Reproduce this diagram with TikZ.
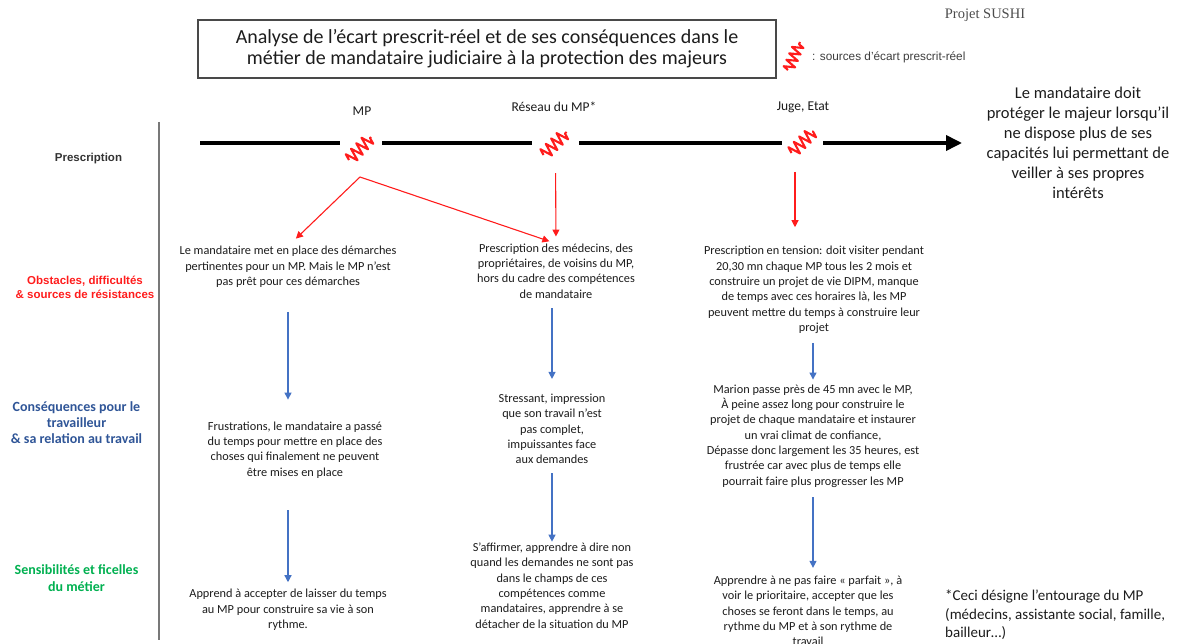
\documentclass[tikz,border=0pt]{standalone}
\usepackage{fontspec}
\setmainfont{Carlito}
\newfontfamily\arialf{Liberation Sans}
\newfontfamily\timesf{Liberation Serif}
\usetikzlibrary{arrows.meta,decorations.pathmorphing}

\definecolor{wred}{RGB}{255,28,28}
\definecolor{wblue}{RGB}{68,114,196}
\definecolor{lblue}{RGB}{47,85,151}
\definecolor{lgreen}{RGB}{0,176,80}
\definecolor{ink}{RGB}{28,28,28}
\definecolor{rule}{RGB}{120,120,120}

\tikzset{
  body/.style={font=\fontsize{12.3}{15.3}\selectfont, align=center, text=ink, inner sep=0pt},
  spring/.style={draw=wred, line width=2.1pt, line join=round, decorate,
    decoration={zigzag, segment length=7.6pt, amplitude=6.3pt}},
  gapnode/.style={minimum width=#1, minimum height=30pt, inner sep=0pt},
  timeline/.style={line width=3.6pt, black},
  redarrow/.style={draw=wred, line width=1.1pt, -{Triangle[length=7pt,width=7pt]}},
  bluearrow/.style={draw=wblue, line width=1.2pt, -{Triangle[length=7pt,width=7pt]}},
  head/.style={font=\fontsize{13.5}{16}\selectfont, text=ink, inner sep=0pt},
}

\begin{document}
\begin{tikzpicture}[x=1pt,y=-1pt]
\useasboundingbox (0,0) rectangle (1177,644);

% title and legend
\node[draw=ink!80, line width=1.2pt, minimum width=578pt, minimum height=58pt,
      font=\fontsize{20}{21}\selectfont, align=center, text=ink] (title) at (487,49)
  {Analyse de l’écart prescrit-réel et de ses conséquences dans le\\
   métier de mandataire judiciaire à la protection des majeurs};
\coordinate (legZ) at (794,56);
\draw[spring, decoration={zigzag, segment length=7pt, amplitude=5.5pt}]
  ([shift={(-6,14)}]legZ) -- ([shift={(6,-14)}]legZ);
\node[anchor=west, font=\arialf\fontsize{11.8}{13}\selectfont, text=ink!85, inner sep=0pt]
  (legend) at (812,57) {: sources d’écart prescrit-réel};
\node[font=\timesf\fontsize{14.5}{16}\selectfont, text=black!70, inner sep=0pt] (proj) at (985,15) {Projet SUSHI};

% row labels
\draw[rule, line width=1.4pt] (159,122) -- (159,640);
\node[font=\arialf\bfseries\fontsize{11.5}{14}\selectfont, text=ink!90, inner sep=0pt] (lPres) at (88.5,159) {Prescription};
\node[font=\arialf\bfseries\fontsize{11.5}{14}\selectfont, text=wred, align=center, inner sep=0pt] (lObs) at (85,287)
  {Obstacles, difficultés\\ \& sources de résistances};
\node[font=\bfseries\fontsize{14}{16}\selectfont, text=lblue, align=center, inner sep=0pt] (lCons) at (76.5,423)
  {Conséquences pour le\\ travailleur\\ \& sa relation au travail};
\node[font=\bfseries\fontsize{14}{17}\selectfont, text=lgreen, align=center, inner sep=0pt] (lSens) at (76.5,578.5)
  {Sensibilités et ficelles\\ du métier};

% timeline with the three sources
\coordinate (tl0) at (200,143);
\coordinate (tlEnd) at (962,143);
\node[gapnode=42pt] (zMP) at (361,143) {};
\node[gapnode=47pt] (zRes) at (555.5,143) {};
\node[gapnode=41pt] (zJuge) at (802.5,143) {};
\draw[timeline] (tl0) -- (zMP.west);
\draw[timeline] (zMP.east) -- (zRes.west);
\draw[timeline] (zRes.east) -- (zJuge.west);
\draw[timeline, -{Triangle[length=16pt,width=15pt]}] (zJuge.east) -- (tlEnd);
\draw[spring] ([shift={(-12,17)}]zMP.center) -- ([shift={(10,-6)}]zMP.center);
\draw[spring] ([shift={(-12,12)}]zRes.center) -- ([shift={(11,-11)}]zRes.center);
\draw[spring] ([shift={(-11,10)}]zJuge.center) -- ([shift={(11,-12)}]zJuge.center);

\node[head] (hMP) at (362,111) {MP};
\node[head] (hRes) at (554,107) {Réseau du MP*};
\node[head] (hJuge) at (803,107) {Juge, Etat};

\node[font=\fontsize{16.5}{20}\selectfont, align=center, text=ink, inner sep=0pt] (goal) at (1078,143)
  {Le mandataire doit\\ protéger le majeur lorsqu’il\\ ne dispose plus de ses\\
   capacités lui permettant de\\ veiller à ses propres\\ intérêts};

% obstacles row
\node[body] (o1) at (288,267)
  {Le mandataire met en place des démarches\\ pertinentes pour un MP. Mais le MP n’est\\ pas prêt pour ces démarches};
\node[body] (o2) at (556,271)
  {Prescription des médecins, des\\ propriétaires, de voisins du MP,\\ hors du cadre des compétences\\ de mandataire};
\node[body] (o3) at (814,290)
  {Prescription en tension: doit visiter pendant\\ 20,30 mn chaque MP tous les 2 mois et\\
   construire un projet de vie DIPM, manque\\ de temps avec ces horaires là, les MP\\
   peuvent mettre du temps à construire leur\\ projet};

% consequences row
\node[body] (c1) at (295,450)
  {Frustrations, le mandataire a passé\\ du temps pour mettre en place des\\ choses qui finalement ne peuvent\\ être mises en place};
\node[body] (c2) at (552,429)
  {Stressant, impression\\ que son travail n’est\\ pas complet,\\ impuissantes face\\ aux demandes};
\node[body] (c3) at (813,436)
  {Marion passe près de 45 mn avec le MP,\\ À peine assez long pour construire le\\
   projet de chaque mandataire et instaurer\\ un vrai climat de confiance,\\
   Dépasse donc largement les 35 heures, est\\ frustrée car avec plus de temps elle\\
   pourrait faire plus progresser les MP};

% know-how row
\node[body] (s1) at (288,610)
  {Apprend à accepter de laisser du temps\\ au MP pour construire sa vie à son\\ rythme.};
\node[body] (s2) at (552,585.5)
  {S’affirmer, apprendre à dire non\\ quand les demandes ne sont pas\\ dans le champs de ces\\
   compétences comme\\ mandataires, apprendre à se\\ détacher de la situation du MP};
\node[body] (s3) at (808,611)
  {Apprendre à ne pas faire « parfait », à\\ voir le prioritaire, accepter que les\\
   choses se feront dans le temps, au\\ rythme du MP et à son rythme de\\ travail};

\node[font=\fontsize{15}{18.5}\selectfont, align=left, text=ink, inner sep=0pt, anchor=north west] (note) at (945,590)
  {*Ceci désigne l’entourage du MP\\ (médecins, assistante social, famille,\\ bailleur…)};

% red connectors from the sources
\coordinate (srcMP) at (360,177);
\coordinate (srcJuge) at (795,172);
\draw[redarrow, shorten >=11pt] (srcMP) -- (o1.north);
\draw[redarrow, shorten >=7pt] (srcMP) -- (o2.north);
\draw[redarrow, shorten <=15pt, shorten >=7pt] (zRes.south) -- (o2.north);
\draw[redarrow, shorten >=19pt] (srcJuge) -- (srcJuge |- o3.north);

% blue connectors down each column
\draw[bluearrow, shorten <=24pt, shorten >=22pt] (o1.south) -- (o1.south |- c1.north);
\draw[bluearrow, shorten <=32pt, shorten >=7pt] (o1.south |- c1.south) -- (o1.south |- s1.north);
\draw[bluearrow, shorten <=10pt, shorten >=15pt] (c2.north |- o2.south) -- (c2.north);
\draw[bluearrow, shorten <=9pt, shorten >=1pt] (c2.south) -- (s2.north);
\draw[bluearrow, shorten <=9pt, shorten >=5pt] (c3.north |- o3.south) -- (c3.north);
\draw[bluearrow, shorten <=10pt, shorten >=8pt] (c3.south) -- (c3.south |- s3.north);
\end{tikzpicture}
\end{document}
